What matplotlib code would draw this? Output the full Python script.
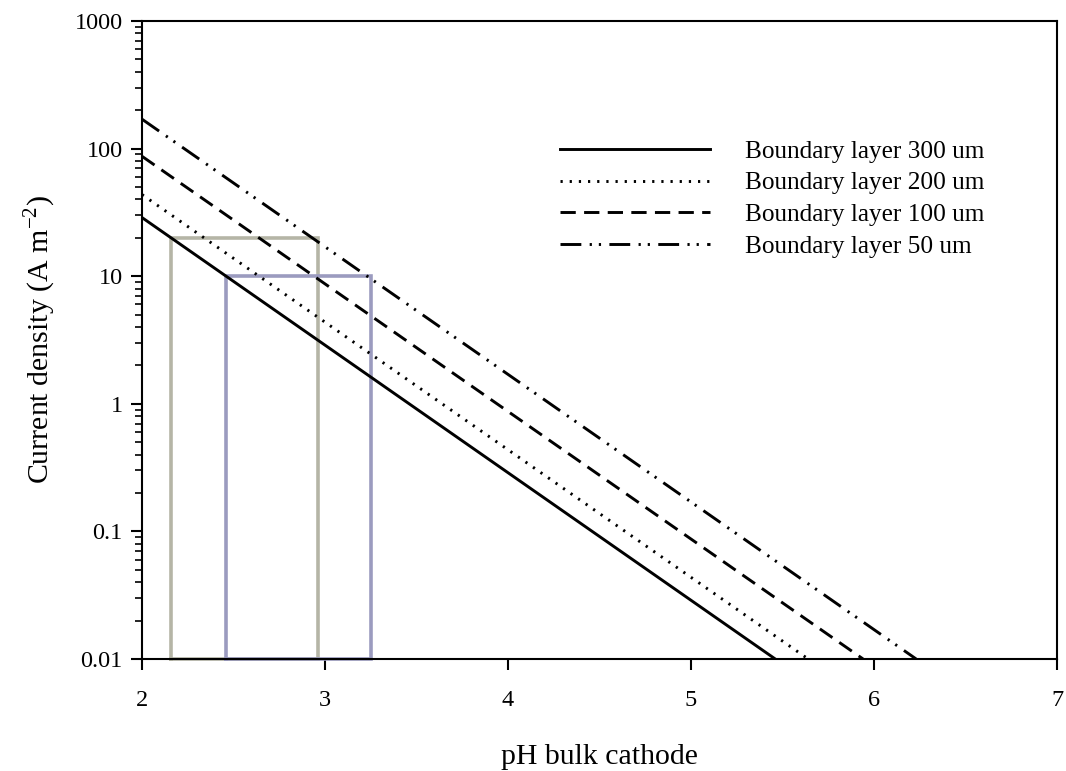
import matplotlib
matplotlib.use("Agg")
import matplotlib.pyplot as plt
from matplotlib.ticker import LogLocator, FixedLocator, NullFormatter

plt.rcParams['font.family'] = ['Liberation Serif', 'DejaVu Serif']
plt.rcParams['lines.scale_dashes'] = False
plt.rcParams['mathtext.fontset'] = 'custom'
plt.rcParams['mathtext.rm'] = 'Liberation Serif'

# Data: each boundary-layer line as (pH, current density) end points
labels = ["Boundary layer 300 um", "Boundary layer 200 um",
          "Boundary layer 100 um", "Boundary layer 50 um"]
ph_300 = [2.0, 5.46]
j_300 = [28.8, 0.01]
ph_200 = [2.0, 5.64]
j_200 = [43.6, 0.01]
ph_100 = [2.0, 5.94]
j_100 = [87.0, 0.01]
ph_50 = [2.0, 6.23]
j_50 = [170.0, 0.01]

# Operating windows (rectangles): pH range and max current density
box1_ph = [2.16, 2.96]
box1_j = [0.01, 20]
box2_ph = [2.46, 3.25]
box2_j = [0.01, 10]

xticks = [2, 3, 4, 5, 6, 7]
yticks = [0.01, 0.1, 1, 10, 100, 1000]
ytick_labels = ["0.01", "0.1", "1", "10", "100", "1000"]

fig = plt.figure(figsize=(10.66, 7.71), dpi=100)
ax = fig.add_axes([0.1332, 0.1453, 0.8584, 0.8275])

grey = "#b5b5a6"
purple = "#9b9bbf"
for (px, py, c) in [(box1_ph, box1_j, grey), (box2_ph, box2_j, purple)]:
    ax.plot([px[0], px[0], px[1], px[1], px[0]],
            [py[0], py[1], py[1], py[0], py[0]],
            color=c, lw=2.6, solid_joinstyle='miter', zorder=2, clip_on=False)

lw = 2.1
styles = [
    dict(linestyle='-'),
    dict(linestyle=(0, (1.6, 5.0))),
    dict(linestyle=(0, (11, 6))),
    dict(linestyle=(0, (15, 6, 1.6, 5, 1.6, 6))),
]
series = [(ph_300, j_300), (ph_200, j_200), (ph_100, j_100), (ph_50, j_50)]
for (xs, ys), st, lab in zip(series, styles, labels):
    ax.plot(xs, ys, color='black', lw=lw, label=lab, zorder=3, **st)

ax.set_yscale('log')
ax.set_xlim(2, 7)
ax.set_ylim(0.01, 1000)
ax.xaxis.set_major_locator(FixedLocator(xticks))
ax.yaxis.set_major_locator(FixedLocator(yticks))
ax.set_yticklabels(ytick_labels)
ax.set_xticklabels([str(t) for t in xticks])
ax.yaxis.set_minor_locator(LogLocator(base=10, subs=range(2, 10), numticks=20))
ax.yaxis.set_minor_formatter(NullFormatter())

ax.tick_params(axis='both', which='major', direction='out', length=8, width=1.5,
               labelsize=17.5, pad=6)
ax.tick_params(axis='y', which='minor', direction='out', length=5, width=1.2)
ax.tick_params(axis='x', which='major', pad=14)
for s in ax.spines.values():
    s.set_linewidth(1.5)

ax.set_xlabel("pH bulk cathode", fontsize=21.5, labelpad=24)
ax.set_ylabel(r"Current density (A m$^{\mathregular{-2}}$)", fontsize=21.5, labelpad=12)

leg = ax.legend(loc='upper left', bbox_to_anchor=(0.446, 0.829), frameon=False,
                fontsize=18.2, handlelength=5.93, handletextpad=1.38,
                labelspacing=0.35, borderaxespad=0)

fig.savefig("out.png", dpi=100)
